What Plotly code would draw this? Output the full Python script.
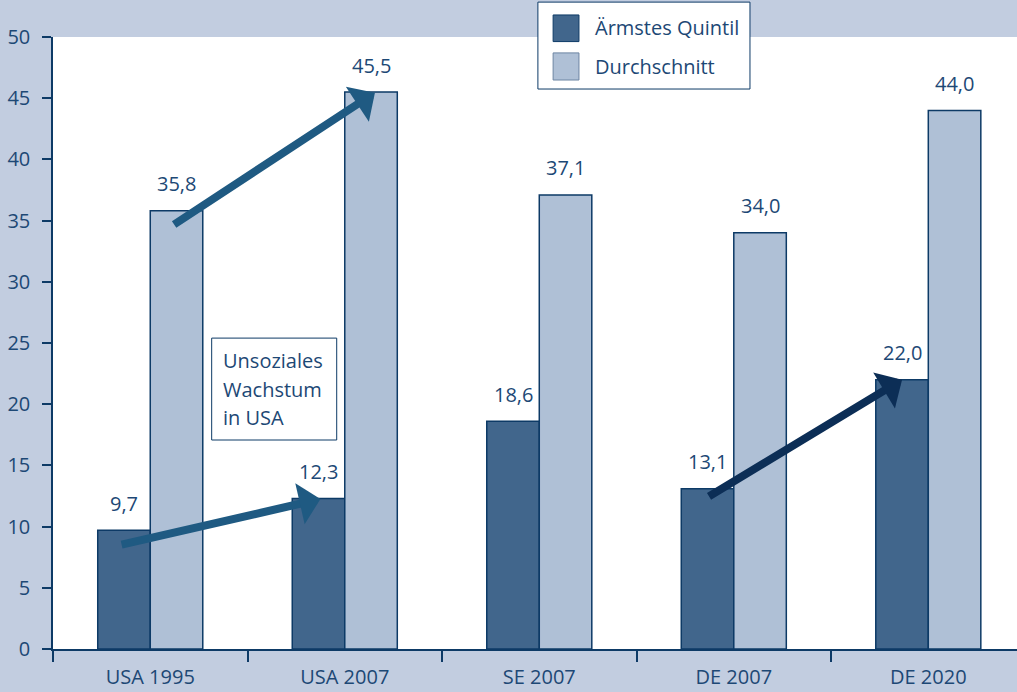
import plotly.graph_objects as go

categories = ["USA 1995", "USA 2007", "SE 2007", "DE 2007", "DE 2020"]
poorest = [9.7, 12.3, 18.6, 13.1, 22.0]
average = [35.8, 45.5, 37.1, 34.0, 44.0]
series_names = ["Ärmstes Quintil", "Durchschnitt"]
box_lines = ["Unsoziales", "Wachstum", "in USA"]

BG = "#c2cde0"
DARK = "#41668c"
LIGHT = "#afc0d6"
NAVY = "#0d3a66"
TEXT = "#1d4875"
FONT = "Open Sans"
FS = 20

fig = go.Figure()
fig.add_trace(go.Bar(x=categories, y=poorest, name=series_names[0],
                     marker=dict(color=DARK, line=dict(color=NAVY, width=1.5))))
fig.add_trace(go.Bar(x=categories, y=average, name=series_names[1],
                     marker=dict(color=LIGHT, line=dict(color=NAVY, width=1.5))))

OFF = 0.135  # half bar offset in category units
annotations = []
for i, (p, a) in enumerate(zip(poorest, average)):
    for val, dx in ((p, -OFF), (a, OFF)):
        annotations.append(dict(x=i + dx, y=val, xref="x", yref="y",
                                text=f"{val:.1f}".replace(".", ","),
                                showarrow=False, yshift=27, yanchor="middle",
                                font=dict(family=FONT, size=FS, color=TEXT)))

# arrows: (tail x, tail y, head x, head y, color)
arrows = [
    (0 - OFF - 0.02, 8.5, 1 - OFF + 0.01, poorest[1] - 0.05, "#1f5a82"),
    (0 + OFF - 0.02, 34.6, 1 + OFF + 0.02, average[1] - 0.05, "#1f5a82"),
    (3 - OFF, 12.4, 4 - OFF, poorest[4], "#0c2e56"),
]
for tx, ty, hx, hy, col in arrows:
    annotations.append(dict(x=hx, y=hy, ax=tx, ay=ty, xref="x", yref="y",
                            axref="x", ayref="y", text="", showarrow=True,
                            arrowhead=1, arrowwidth=8, arrowsize=0.875,
                            arrowcolor=col, standoff=0))

# text box lines
for k, (line, yp) in enumerate(zip(box_lines, [0.4722, 0.4248, 0.379])):
    annotations.append(dict(x=0.1745, y=yp, xref="paper", yref="paper",
                            text=line, showarrow=False, xanchor="left",
                            yanchor="middle",
                            font=dict(family=FONT, size=FS, color=TEXT)))

# legend text
annotations.append(dict(x=0.5605, y=1.015, xref="paper", yref="paper",
                        text=series_names[0], showarrow=False, xanchor="left",
                        yanchor="middle", font=dict(family=FONT, size=FS, color=TEXT)))
annotations.append(dict(x=0.5605, y=0.951, xref="paper", yref="paper",
                        text=series_names[1], showarrow=False, xanchor="left",
                        yanchor="middle", font=dict(family=FONT, size=FS, color=TEXT)))

shapes = [
    # text box
    dict(type="rect", xref="paper", yref="paper", x0=0.1646, x1=0.2943,
         y0=0.3415, y1=0.508, line=dict(color=NAVY, width=1), fillcolor="rgba(0,0,0,0)"),
    # legend box
    dict(type="rect", xref="paper", yref="paper", x0=0.503, x1=0.723,
         y0=0.915, y1=1.057, line=dict(color=NAVY, width=1), fillcolor="white",
         layer="above"),
    dict(type="rect", xref="paper", yref="paper", x0=0.5188, x1=0.5456,
         y0=0.9925, y1=1.036, line=dict(color=NAVY, width=1), fillcolor=DARK,
         layer="above"),
    dict(type="rect", xref="paper", yref="paper", x0=0.5188, x1=0.5456,
         y0=0.9297, y1=0.974, line=dict(color="#6c85a3", width=1), fillcolor=LIGHT,
         layer="above"),
]

fig.update_layout(
    width=1017, height=692,
    margin=dict(l=53, r=0, t=37, b=43),
    paper_bgcolor=BG, plot_bgcolor="white",
    barmode="group", bargap=0.46, bargroupgap=0,
    showlegend=False,
    annotations=annotations, shapes=shapes,
    font=dict(family=FONT, size=FS, color=TEXT),
)
fig.update_xaxes(type="category", range=[-0.5, 4.456], tickson="boundaries",
                 ticks="outside", ticklen=11, tickcolor=NAVY, tickwidth=1.5,
                 showline=True, linecolor=NAVY, linewidth=1.5, showgrid=False,
                 ticklabelstandoff=9, automargin=False,
                 tickfont=dict(family=FONT, size=FS, color=TEXT))
fig.update_yaxes(range=[0, 50], dtick=5, ticks="outside", ticklen=9,
                 tickcolor=NAVY, tickwidth=1.5, showline=True, linecolor=NAVY,
                 linewidth=1.5, showgrid=False, zeroline=False,
                 ticklabelstandoff=8, automargin=False,
                 tickfont=dict(family=FONT, size=FS, color=TEXT))

fig.write_html("out.html")
